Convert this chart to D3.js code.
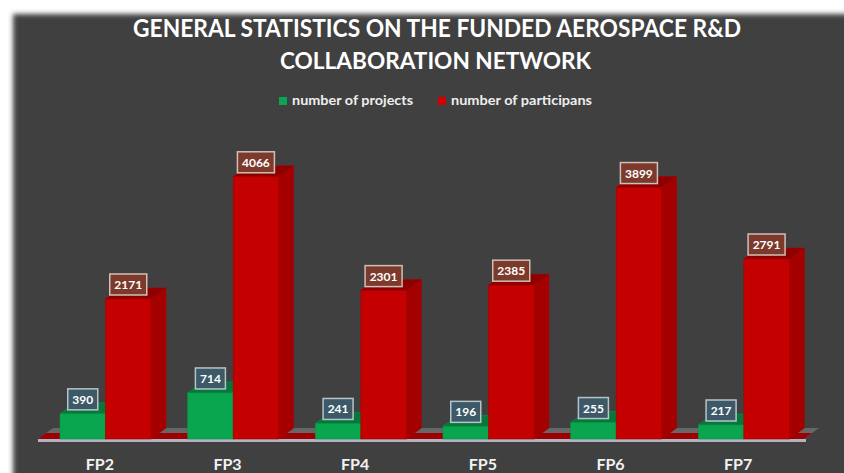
<!DOCTYPE html>
<html>
<head>
<meta charset="utf-8">
<script src="https://cdn.jsdelivr.net/npm/d3@7/dist/d3.min.js"></script>
<style>
html,body{margin:0;padding:0;background:#ffffff;}
svg{display:block;}
</style>
</head>
<body>
<svg id="chart" width="844" height="473"></svg>
<script>
const categories = ["FP2", "FP3", "FP4", "FP5", "FP6", "FP7"];
const projects = [390, 714, 241, 196, 255, 217];
const participants = [2171, 4066, 2301, 2385, 3899, 2791];
const seriesNames = ["number of projects", "number of participans"];
const titleLines = ["GENERAL STATISTICS ON THE FUNDED AEROSPACE R&D", "COLLABORATION NETWORK"];

const W = 844, H = 473;
const svg = d3.select("#chart");
const FONT = "Lato, 'Open Sans', sans-serif";

// background panel with soft edge
const defs = svg.append("defs");
defs.append("filter").attr("id", "soft").attr("x", "-5%").attr("y", "-5%").attr("width", "110%").attr("height", "110%")
  .append("feGaussianBlur").attr("stdDeviation", 2.5);
svg.append("rect").attr("x", 13).attr("y", 14).attr("width", W).attr("height", H)
  .attr("fill", "#404040").attr("filter", "url(#soft)");

// scales
const x = d3.scaleBand().domain(categories).range([38, 804]).padding(0);
const x1 = d3.scaleBand().domain(["p", "q"]).range([22, 113]).padding(0);
const y = d3.scaleLinear().domain([0, 4500]).range([439, 148.8]);
const base = y(0);
const dx = 15, dy = -11;

// floor
const fx0 = x.range()[0], fx1 = x.range()[1];
svg.append("polygon")
  .attr("points", [[fx0, base], [fx0 + dx, base + dy], [fx1 + dx, base + dy], [fx1, base]].map(p => p.join(",")).join(" "))
  .attr("fill", "#666666");
svg.append("polygon")
  .attr("points", [[fx0, base], [fx0 + 8, base - 6], [fx1 + 8, base - 6], [fx1, base]].map(p => p.join(",")).join(" "))
  .attr("fill", "#9c0000");
svg.append("rect").attr("x", fx0).attr("y", base).attr("width", fx1 - fx0 + 2).attr("height", 3)
  .attr("fill", "#b2b2c2");

const series = [
  {key: "p", values: projects, front: "#0aa64f", top: "#05783a", side: "#06833f", stroke: "#079446",
   boxFill: "#3d5866", boxStroke: "#b4c4cc"},
  {key: "q", values: participants, front: "#c40000", top: "#8e0000", side: "#a50000", stroke: "#a80000",
   boxFill: "#7b3a2b", boxStroke: "#cfbfb6"}
];

const bars = svg.append("g");
const labels = svg.append("g");
categories.forEach((c, i) => {
  series.forEach(s => {
    const v = s.values[i];
    const x0 = x(c) + x1(s.key);
    const w = x1.bandwidth();
    const yt = y(v);
    const g = bars.append("g");
    // side
    g.append("polygon")
      .attr("points", [[x0 + w, yt], [x0 + w + dx, yt + dy], [x0 + w + dx, base + dy], [x0 + w, base]].map(p => p.join(",")).join(" "))
      .attr("fill", s.side).attr("stroke", s.stroke).attr("stroke-width", 0.6);
    // top
    g.append("polygon")
      .attr("points", [[x0, yt], [x0 + dx, yt + dy], [x0 + w + dx, yt + dy], [x0 + w, yt]].map(p => p.join(",")).join(" "))
      .attr("fill", s.top).attr("stroke", s.stroke).attr("stroke-width", 0.6);
    // front
    g.append("rect").attr("x", x0).attr("y", yt).attr("width", w).attr("height", base - yt)
      .attr("fill", s.front).attr("stroke", s.stroke).attr("stroke-width", 0.6);

    // value label
    const txt = String(v);
    const tw = txt.length * 7;
    const bw = tw + 9, bh = 21;
    const cx = x0 + w / 2;
    const by = yt - 4 - bh;
    const lg = labels.append("g");
    lg.append("rect").attr("x", cx - bw / 2).attr("y", by).attr("width", bw).attr("height", bh)
      .attr("fill", s.boxFill).attr("stroke", s.boxStroke).attr("stroke-width", 1.5);
    lg.append("text").attr("x", cx).attr("y", by + 15).attr("text-anchor", "middle")
      .attr("font-family", FONT).attr("font-weight", "bold").attr("font-size", 12)
      .attr("fill", "#ffffff").text(txt);
  });
});

// x axis labels
svg.append("g").selectAll("text").data(categories).join("text")
  .attr("x", d => x(d) + x.bandwidth() / 2 - 2)
  .attr("y", 470)
  .attr("text-anchor", "middle")
  .attr("font-family", FONT).attr("font-weight", "bold").attr("font-size", 16)
  .attr("fill", "#f2f2f2")
  .text(d => d);

// title
svg.append("text").attr("x", 133).attr("y", 37).attr("textLength", 608).attr("lengthAdjust", "spacingAndGlyphs")
  .attr("font-family", FONT).attr("font-weight", "bold").attr("font-size", 25).attr("fill", "#ffffff")
  .text(titleLines[0]);
svg.append("text").attr("x", 280).attr("y", 69).attr("textLength", 311).attr("lengthAdjust", "spacingAndGlyphs")
  .attr("font-family", FONT).attr("font-weight", "bold").attr("font-size", 23).attr("fill", "#ffffff")
  .text(titleLines[1]);

// legend
const legend = [
  {name: seriesNames[0], color: "#0aa64f", sx: 279, tx: 292, tl: 121},
  {name: seriesNames[1], color: "#d00000", sx: 438, tx: 451, tl: 141}
];
const lg = svg.append("g");
legend.forEach(l => {
  lg.append("rect").attr("x", l.sx).attr("y", 97).attr("width", 8).attr("height", 8).attr("fill", l.color);
  lg.append("text").attr("x", l.tx).attr("y", 105).attr("textLength", l.tl).attr("lengthAdjust", "spacingAndGlyphs")
    .attr("font-family", FONT).attr("font-weight", "bold").attr("font-size", 12.5).attr("fill", "#eeeeee")
    .text(l.name);
});
</script>
</body>
</html>
